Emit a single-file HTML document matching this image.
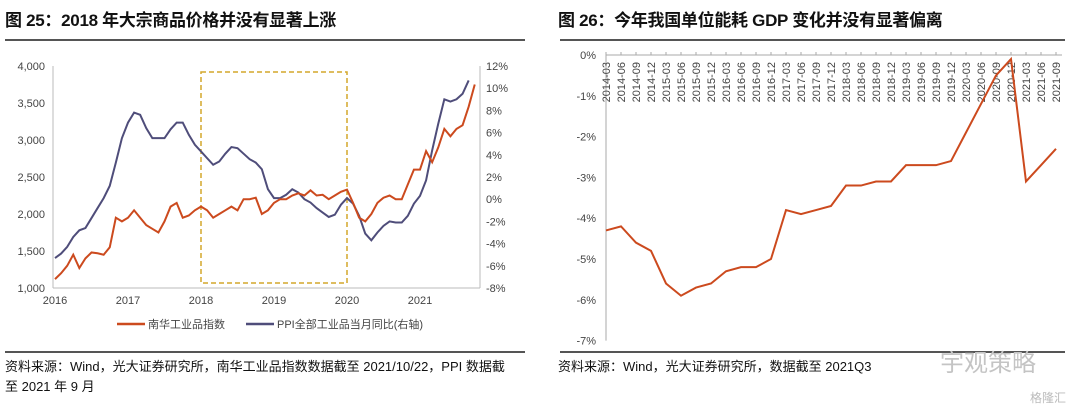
<!DOCTYPE html>
<html><head><meta charset="utf-8">
<style>
body{margin:0;background:#fff;width:1080px;height:412px;overflow:hidden;font-family:"Liberation Sans","Noto Sans CJK SC",sans-serif;}
.t{position:absolute;font-weight:bold;font-size:17px;color:#111;top:6px;letter-spacing:-0.3px}
.src{position:absolute;font-size:13px;color:#111;line-height:20px}
.rule{position:absolute;height:2px;background:#555}
svg{position:absolute;left:0;top:0}
</style></head><body>
<div class="t" style="left:5px">图 25：2018 年大宗商品价格并没有显著上涨</div>
<div class="t" style="left:558px">图 26：今年我国单位能耗 GDP 变化并没有显著偏离</div>
<div class="rule" style="left:5px;top:39px;width:520px"></div>
<div class="rule" style="left:560px;top:39px;width:505px"></div>
<div class="rule" style="left:5px;top:351px;width:520px"></div>
<div class="rule" style="left:560px;top:351px;width:505px"></div>
<div class="src" style="left:5px;top:357px;width:508px">资料来源：Wind，光大证券研究所，南华工业品指数数据截至 2021/10/22，PPI 数据截至 2021 年 9 月</div>
<div class="src" style="left:558px;top:357px">资料来源：Wind，光大证券研究所，数据截至 2021Q3</div>
<div class="src" style="left:940px;top:354px;font-size:24px;color:#c4c4c4">宇观策略</div>
<div class="src" style="left:1030px;top:388px;font-size:12px;color:#bbb">格隆汇</div>
<svg width="1080" height="412" id="svg"></svg>
<script>
const NS="http://www.w3.org/2000/svg";
const svg=document.getElementById('svg');
function mk(tag,attrs,parent){const e=document.createElementNS(NS,tag);for(const k in attrs)e.setAttribute(k,attrs[k]);(parent||svg).appendChild(e);return e;}

// ---- Left chart data ----
const years=["2016","2017","2018","2019","2020","2021"];
const leftTicks=[1000,1500,2000,2500,3000,3500,4000];
const rightTicks=[-8,-6,-4,-2,0,2,4,6,8,10,12];
const nanhua=[1120,1200,1300,1450,1270,1400,1480,1470,1450,1550,1950,1900,1950,2050,1950,1850,1800,1750,1900,2100,2150,1950,1980,2050,2100,2050,1950,2000,2050,2100,2050,2200,2200,2220,2000,2050,2150,2200,2200,2250,2280,2250,2320,2250,2260,2200,2250,2300,2330,2150,1950,1900,2000,2150,2220,2250,2200,2200,2400,2600,2600,2850,2700,2900,3150,3050,3150,3200,3450,3750];
const ppi=[-5.3,-4.9,-4.3,-3.4,-2.8,-2.6,-1.7,-0.8,0.1,1.2,3.3,5.5,6.9,7.8,7.6,6.4,5.5,5.5,5.5,6.3,6.9,6.9,5.8,4.9,4.3,3.7,3.1,3.4,4.1,4.7,4.6,4.1,3.6,3.3,2.7,0.9,0.1,0.1,0.4,0.9,0.6,0.0,-0.3,-0.8,-1.2,-1.6,-1.4,-0.5,0.1,-0.4,-1.5,-3.1,-3.7,-3.0,-2.4,-2.0,-2.1,-2.1,-1.5,-0.4,0.3,1.7,4.4,6.8,9.0,8.8,9.0,9.5,10.7];

const L={x0:55,yr:73,left:53,right:480,top:66,bot:288};
const lx=m=>L.x0+m/12*L.yr;
const ly=v=>L.bot-(v-1000)/3000*(L.bot-L.top);
const ry=v=>L.bot-(v+8)/20*(L.bot-L.top);

let e;
e=mk('line',{x1:L.left,y1:L.top,x2:L.left,y2:L.bot,stroke:'#bbb'});


e=mk('line',{x1:L.right,y1:L.top,x2:L.right,y2:L.bot,stroke:'#bbb'});


e=mk('line',{x1:L.left,y1:L.bot,x2:L.right,y2:L.bot,stroke:'#bbb'});


leftTicks.forEach(v=>{
  e=mk('text',{x:L.left-8,y:ly(v)+4,'text-anchor':'end','font-size':11,fill:'#444'});
  e.textContent=v.toLocaleString('en-US');
  
  
});
rightTicks.forEach(v=>{
  e=mk('text',{x:L.right+6,y:ry(v)+4,'font-size':11,fill:'#444'});
  e.textContent=v+'%';
  
  
});
years.forEach((y,i)=>{
  e=mk('text',{x:lx(i*12),y:L.bot+16,'text-anchor':'middle','font-size':11,fill:'#444'});
  e.textContent=y;
  
  
});
e=mk('rect',{x:lx(24),y:72,width:lx(48)-lx(24),height:211,fill:'none',stroke:'#d4a72c','stroke-width':1.5,'stroke-dasharray':'5,3'});


e=mk('polyline',{points:ppi.map((v,i)=>lx(i)+','+ry(v)).join(' '),fill:'none',stroke:'#4f4d7a','stroke-width':2});


e=mk('polyline',{points:nanhua.map((v,i)=>lx(i)+','+ly(v)).join(' '),fill:'none',stroke:'#cc4a1e','stroke-width':2});


// legend
e=mk('line',{x1:117,y1:324,x2:145,y2:324,stroke:'#cc4a1e','stroke-width':2.5});


e=mk('text',{x:148,y:328,'font-size':11,fill:'#444'});e.textContent='南华工业品指数';


e=mk('line',{x1:246,y1:324,x2:274,y2:324,stroke:'#4f4d7a','stroke-width':2.5});


e=mk('text',{x:277,y:328,'font-size':11,fill:'#444'});e.textContent='PPI全部工业品当月同比(右轴)';



// ---- Right chart data ----
const quarters=["2014-03","2014-06","2014-09","2014-12","2015-03","2015-06","2015-09","2015-12","2016-03","2016-06","2016-09","2016-12","2017-03","2017-06","2017-09","2017-12","2018-03","2018-06","2018-09","2018-12","2019-03","2019-06","2019-09","2019-12","2020-03","2020-06","2020-09","2020-12","2021-03","2021-06","2021-09"];
const gdpEnergy=[-4.3,-4.2,-4.6,-4.8,-5.6,-5.9,-5.7,-5.6,-5.3,-5.2,-5.2,-5.0,-3.8,-3.9,-3.8,-3.7,-3.2,-3.2,-3.1,-3.1,-2.7,-2.7,-2.7,-2.6,-1.9,-1.2,-0.5,-0.1,-3.1,-2.7,-2.3];
const rTicks=[0,-1,-2,-3,-4,-5,-6,-7];
const R={x0:606,step:15,top:55,per:40.8};
const qx=i=>R.x0+i*R.step;
const qy=v=>R.top-v*R.per;
e=mk('line',{x1:R.x0,y1:R.top,x2:R.x0,y2:qy(-7),stroke:'#aaa'});


e=mk('line',{x1:R.x0,y1:R.top,x2:qx(30)+6,y2:R.top,stroke:'#aaa'});


rTicks.forEach(v=>{
  e=mk('text',{x:R.x0-10,y:qy(v)+4,'text-anchor':'end','font-size':11,fill:'#444'});
  e.textContent=v+'%';
  
  
});
quarters.forEach((q,i)=>{
  e=mk('line',{x1:qx(i),y1:R.top-3,x2:qx(i),y2:R.top,stroke:'#aaa'});
  
  
  e=mk('text',{x:0,y:0,'font-size':11,fill:'#444','text-anchor':'end',transform:`translate(${qx(i)+4},${R.top+7}) rotate(-90)`});
  e.textContent=q;
  
  
});
e=mk('polyline',{points:gdpEnergy.map((v,i)=>qx(i)+','+qy(v)).join(' '),fill:'none',stroke:'#cc4a1e','stroke-width':2});


</script>
</body></html>
